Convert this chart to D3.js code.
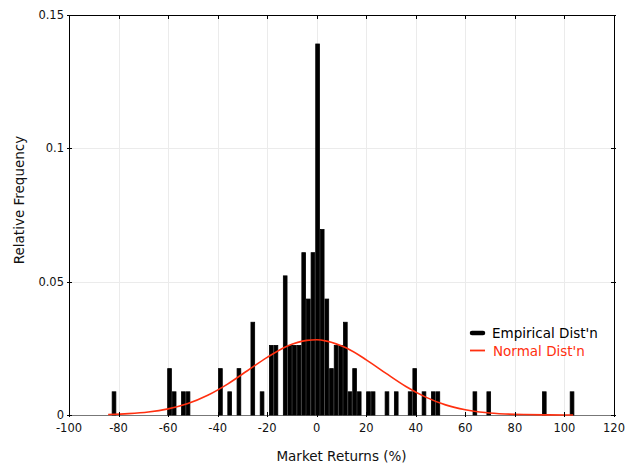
<!DOCTYPE html>
<html>
<head>
<meta charset="utf-8">
<script src="https://cdn.jsdelivr.net/npm/d3@7"></script>
<style>
  body { margin: 0; background: #fff; }
  text { font-family: "DejaVu Sans", sans-serif; }
</style>
</head>
<body>
<script>
// histogram of market returns: 100 bins, counts per bin
var binStart = -81.83,   // centre of first bin (%)
    binWidth = 1.8676;
var counts = [
  1,0,0,0,0,0,0,0,0,0,
  0,0,2,1,0,1,1,0,0,0,
  0,0,0,2,0,1,0,2,0,0,
  4,0,1,0,3,3,0,6,3,3,
  3,7,5,7,16,8,5,2,3,3,
  4,1,2,1,0,1,1,0,0,1,
  0,1,0,0,1,2,0,1,0,1,
  1,0,0,0,0,0,0,0,1,0,
  0,1,0,0,0,0,0,0,0,0,
  0,0,0,1,0,0,0,0,0,1
];

// fitted normal, scaled to bin width
var normalX = [-84.2, -76, -68, -60, -52, -44, -36, -28, -20, -12, -4, 0, 4, 12, 20, 28, 36, 44, 52, 60, 68, 76, 84, 92, 100, 103.5];
var normalY = [0.0002, 0.0005, 0.0011, 0.0023, 0.0043, 0.0074, 0.0116, 0.0166, 0.0216, 0.0258, 0.0280, 0.0282, 0.0277,
               0.0251, 0.0207, 0.0156, 0.0107, 0.0067, 0.0038, 0.0020, 0.00095, 0.0004, 0.00016, 0.00006, 0.00002, 0.00001];

var xTicks = [-100, -80, -60, -40, -20, 0, 20, 40, 60, 80, 100, 120];
var yTicks = [0, 0.05, 0.1, 0.15];
var yTickLabels = ["0", "0.05", "0.1", "0.15"];
var legendLabels = ["Empirical Dist'n", "Normal Dist'n"];

var W = 626, H = 468,
    pl = 69, pr = 614, pt = 15, pb = 415,
    red = "#ff3010";

var total = d3.sum(counts);
var bins = counts.map(function(c, i) {
  return { x: binStart + i * binWidth, f: c / total };
});

var x = d3.scaleLinear().domain([-100, 120]).range([pl, pr]);
var y = d3.scaleLinear().domain([0, 0.15]).range([pb, pt]);

var svg = d3.select("body").append("svg")
  .attr("width", W)
  .attr("height", H);

// grid
svg.append("g").selectAll("line")
  .data(xTicks.slice(1, -1))
  .enter().append("line")
    .attr("x1", function(d) { return Math.round(x(d)) + 0.5; })
    .attr("x2", function(d) { return Math.round(x(d)) + 0.5; })
    .attr("y1", pt).attr("y2", pb)
    .attr("stroke", "#ebebeb");
svg.append("g").selectAll("line")
  .data(yTicks.slice(1, -1))
  .enter().append("line")
    .attr("x1", pl).attr("x2", pr)
    .attr("y1", function(d) { return Math.round(y(d)) + 0.5; })
    .attr("y2", function(d) { return Math.round(y(d)) + 0.5; })
    .attr("stroke", "#ebebeb");

// bottom axis line sits under the bars
svg.append("line")
  .attr("x1", pl).attr("x2", pr)
  .attr("y1", pb + 0.5).attr("y2", pb + 0.5)
  .attr("stroke", "#777");

// bars (empty bins collapse to a stub on the baseline)
var bw = x(binWidth * 0.8) - x(0);
svg.append("g").selectAll("rect")
  .data(bins)
  .enter().append("rect")
    .attr("x", function(d) { return x(d.x) - bw / 2; })
    .attr("y", function(d) { return y(d.f); })
    .attr("width", bw)
    .attr("height", function(d) { return y(0) - y(d.f); })
    .attr("fill", "#000")
    .attr("stroke", "#000")
    .attr("stroke-width", 0.8);

// normal curve
var line = d3.line()
  .x(function(d) { return x(d[0]); })
  .y(function(d) { return y(d[1]); })
  .curve(d3.curveMonotoneX);
svg.append("path")
  .datum(d3.zip(normalX, normalY))
  .attr("d", line)
  .attr("fill", "none")
  .attr("stroke", red)
  .attr("stroke-width", 1.6);

// frame
svg.append("path")
  .attr("d", "M" + (pl + 0.5) + "," + (pb + 0.5) + "V" + (pt + 0.5) + "H" + (pr + 0.5) + "V" + (pb + 0.5))
  .attr("fill", "none")
  .attr("stroke", "#000");

// ticks, pointing both ways across the frame
var tk = svg.append("g").attr("stroke", "#000");
xTicks.forEach(function(t) {
  var px = Math.round(x(t)) + 0.5;
  tk.append("line").attr("x1", px).attr("x2", px).attr("y1", pb - 3).attr("y2", pb + 2);
  tk.append("line").attr("x1", px).attr("x2", px).attr("y1", pt).attr("y2", pt + 4);
});
yTicks.forEach(function(t) {
  var py = Math.round(y(t)) + 0.5;
  tk.append("line").attr("x1", pl - 2).attr("x2", pl + 3).attr("y1", py).attr("y2", py);
  tk.append("line").attr("x1", pr - 3).attr("x2", pr + 2).attr("y1", py).attr("y2", py);
});

// tick labels
svg.append("g").selectAll("text")
  .data(xTicks)
  .enter().append("text")
    .attr("x", function(d) { return x(d); })
    .attr("y", 432)
    .attr("text-anchor", "middle")
    .attr("font-size", 11.5)
    .attr("fill", "#111")
    .text(function(d) { return d; });
svg.append("g").selectAll("text")
  .data(yTicks)
  .enter().append("text")
    .attr("x", pl - 5)
    .attr("y", function(d) { return y(d) + 4; })
    .attr("text-anchor", "end")
    .attr("font-size", 11.5)
    .attr("fill", "#111")
    .text(function(d, i) { return yTickLabels[i]; });

// axis titles
svg.append("text")
  .attr("x", (pl + pr) / 2)
  .attr("y", 461)
  .attr("text-anchor", "middle")
  .attr("font-size", 13.5)
  .attr("fill", "#111")
  .text("Market Returns (%)");
svg.append("text")
  .attr("transform", "translate(24," + 200 + ")rotate(-90)")
  .attr("text-anchor", "middle")
  .attr("font-size", 13.5)
  .attr("fill", "#111")
  .text("Relative Frequency");

// legend
var lg = svg.append("g").attr("transform", "translate(470,333)");
lg.append("line")
  .attr("x1", 2).attr("x2", 13).attr("y1", 0).attr("y2", 0)
  .attr("stroke", "#000").attr("stroke-width", 4.5).attr("stroke-linecap", "round");
lg.append("line")
  .attr("x1", 0).attr("x2", 15).attr("y1", 17.5).attr("y2", 17.5)
  .attr("stroke", red).attr("stroke-width", 1.8);
lg.append("text")
  .attr("x", 22).attr("y", 5)
  .attr("font-size", 13.5)
  .attr("fill", "#000")
  .text(legendLabels[0]);
lg.append("text")
  .attr("x", 23).attr("y", 22.5)
  .attr("font-size", 13.5)
  .attr("fill", red)
  .text(legendLabels[1]);
</script>
</body>
</html>
